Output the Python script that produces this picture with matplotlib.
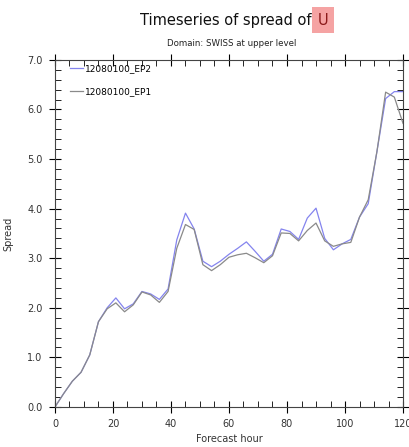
import matplotlib
matplotlib.use('Agg')
from matplotlib import pyplot as plt
from matplotlib.ticker import MultipleLocator, FormatStrFormatter

hours = list(range(0, 121, 3))
ep2 = [0.0, 0.27, 0.52, 0.70, 1.05, 1.72, 2.00, 2.20, 1.98, 2.08, 2.33, 2.28,
       2.17, 2.38, 3.37, 3.91, 3.59, 2.94, 2.83, 2.94, 3.08, 3.20, 3.33, 3.14,
       2.94, 3.08, 3.59, 3.54, 3.38, 3.81, 4.01, 3.40, 3.17, 3.29, 3.38, 3.83,
       4.10, 5.15, 6.22, 6.36, 6.36]
ep1 = [0.0, 0.27, 0.52, 0.70, 1.05, 1.72, 1.98, 2.10, 1.92, 2.06, 2.32, 2.26,
       2.11, 2.33, 3.20, 3.68, 3.58, 2.87, 2.75, 2.87, 3.02, 3.07, 3.10, 3.01,
       2.91, 3.05, 3.51, 3.50, 3.35, 3.56, 3.71, 3.35, 3.24, 3.29, 3.32, 3.83,
       4.18, 5.15, 6.35, 6.25, 5.72]

fig = plt.figure(figsize=(4.10, 4.47), dpi=100)
ax = fig.add_axes([0.134, 0.0895, 0.849, 0.7765])

ax.plot(hours, ep2, color='#8484ee', lw=0.9, label='12080100_EP2')
ax.plot(hours, ep1, color='#8a8a8a', lw=0.9, label='12080100_EP1')

ax.set_xlim(0, 120)
ax.set_ylim(0, 7)
ax.xaxis.set_major_locator(MultipleLocator(20))
ax.xaxis.set_minor_locator(MultipleLocator(5))
ax.yaxis.set_major_locator(MultipleLocator(1))
ax.yaxis.set_minor_locator(MultipleLocator(0.2))
ax.yaxis.set_major_formatter(FormatStrFormatter('%.1f'))
ax.tick_params(which='major', direction='inout', length=8, width=0.8,
               top=True, right=True, labelsize=7, labelcolor='#333333', pad=5)
ax.tick_params(which='minor', direction='in', length=4, width=0.6,
               top=True, right=True)
for s in ax.spines.values():
    s.set_linewidth(0.8)
    s.set_color('#444444')

ax.set_xlabel('Forecast hour', fontsize=7, color='#333333', labelpad=3)
ax.set_ylabel('Spread', fontsize=7, color='#333333', labelpad=10)

ax.legend(loc='upper left', frameon=False, fontsize=6.5, handlelength=1.5,
          handletextpad=0.15, labelspacing=1.5, borderaxespad=0.1,
          bbox_to_anchor=(0.03, 1.0))

# title with highlighted U placed right after the main text
t = fig.text(140 / 410, 0.955, 'Timeseries of spread of ', ha='left',
             va='center', fontsize=10.5, color='#111111')
fig.canvas.draw()
bb = t.get_window_extent()
fig.text(bb.x1 / 410 + 0.003, 0.955, 'U', ha='left', va='center',
         fontsize=10.5, color='#8b1a1a',
         bbox=dict(boxstyle='square,pad=0.4', fc='#f5a3a3', ec='none'))
fig.text(0.565, 0.902, 'Domain: SWISS at upper level', ha='center',
         va='center', fontsize=6.2, color='#222222')

fig.savefig('out.png', dpi=100)
